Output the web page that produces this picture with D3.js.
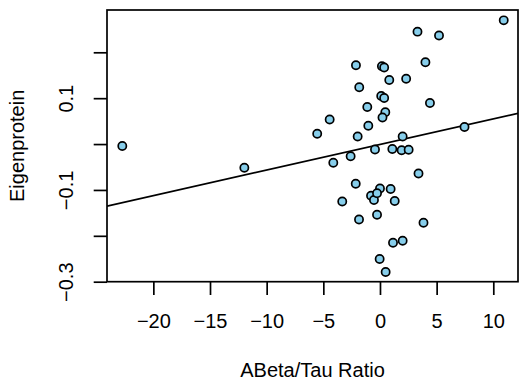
<!DOCTYPE html>
<html>
<head>
<meta charset="utf-8">
<script src="https://cdn.jsdelivr.net/npm/d3@7"></script>
<style>
  html, body { margin: 0; padding: 0; background: #fff; }
  svg { display: block; }
  text { font-family: "Liberation Sans", Arial, Helvetica, sans-serif; fill: #000; }
</style>
</head>
<body>
<svg id="chart" width="523" height="381"></svg>
<script>
// ABeta/Tau ratio (x) and Eigenprotein (y)
const ratio = [10.92, 3.31, 5.21, -2.12, 0.17, 0.37, 4.01, 0.82, 2.31, -1.83,
  0.11, 0.37, 4.41, -1.12, 0.47, 0.22, -4.44, -1.03, 7.46, -5.54,
  -1.97, 2.0, -0.44, 1.09, 1.91, 2.53, -2.59, -4.12, 3.40, -2.14,
  0.0, 0.94, -0.79, -0.53, -0.26, -3.33, 1.30, -0.26, -1.85, 3.84,
  1.15, 2.0, -0.03, 0.50, -22.74, -11.97];
const eigen = [0.2696, 0.245, 0.2365, 0.1718, 0.1696, 0.1668, 0.1782, 0.1396, 0.1424, 0.1237,
  0.1047, 0.1004, 0.0895, 0.0808, 0.0692, 0.0579, 0.0535, 0.040, 0.0372, 0.0226,
  0.0165, 0.0165, -0.0119, -0.0108, -0.0134, -0.0123, -0.0267, -0.0408, -0.0642, -0.0866,
  -0.0969, -0.098, -0.1126, -0.1219, -0.107, -0.1252, -0.1241, -0.154, -0.1644, -0.1714,
  -0.215, -0.2107, -0.2505, -0.2789, -0.0042, -0.0515];
// fitted regression line: intercept, slope
const fit = [-0.001, 0.00557];
const xTicks = [-20, -15, -10, -5, 0, 5, 10];
const yTicks = [-0.3, -0.2, -0.1, 0, 0.1, 0.2];
const yTickLabels = ["\u22120.3", "", "\u22120.1", "", "0.1", ""];
const xLabel = "ABeta/Tau Ratio";
const yLabel = "Eigenprotein";

const L = 107, R = 518, T = 10, B = 281.7;
const xDomain = [-24.09, 12.18];
const yDomain = [-0.3, 0.2922];

const svg = d3.select("#chart");
const x = d3.scaleLinear().domain(xDomain).range([L, R]);
const y = d3.scaleLinear().domain(yDomain).range([B, T]);

svg.append("defs").append("clipPath").attr("id", "clip")
  .append("rect").attr("x", L).attr("y", T).attr("width", R - L).attr("height", B - T);

// regression line
svg.append("line")
  .attr("clip-path", "url(#clip)")
  .attr("x1", x(xDomain[0])).attr("y1", y(fit[0] + fit[1] * xDomain[0]))
  .attr("x2", x(xDomain[1])).attr("y2", y(fit[0] + fit[1] * xDomain[1]))
  .attr("stroke", "#000").attr("stroke-width", 1.7);

// points
svg.append("g").selectAll("circle")
  .data(ratio.map((v, i) => [v, eigen[i]]))
  .join("circle")
  .attr("cx", d => x(d[0])).attr("cy", d => y(d[1]))
  .attr("r", 4.1)
  .attr("fill", "#87CEEB").attr("stroke", "#000").attr("stroke-width", 1.7);

// x axis
const xAxis = d3.axisBottom(x).tickValues(xTicks).tickSize(13.3).tickPadding(20)
  .tickFormat(d => d < 0 ? "\u2212" + Math.abs(d) : String(d));
const gx = svg.append("g").attr("transform", `translate(0,${B})`).call(xAxis);
gx.select(".domain").remove();
gx.selectAll(".tick line").attr("stroke", "#000").attr("stroke-width", 1.7);
gx.selectAll(".tick text").attr("font-size", 20).attr("font-family", "Liberation Sans, Arial, sans-serif")
  .attr("dy", null).attr("y", 46.5).attr("fill", "#000");

// y axis
const yAxis = d3.axisLeft(y).tickValues(yTicks).tickSize(13.3)
  .tickFormat((d, i) => yTickLabels[i]);
const gy = svg.append("g").attr("transform", `translate(${L},0)`).call(yAxis);
gy.select(".domain").remove();
gy.selectAll(".tick line").attr("stroke", "#000").attr("stroke-width", 1.7);
gy.selectAll(".tick text")
  .attr("font-size", 20).attr("font-family", "Liberation Sans, Arial, sans-serif")
  .attr("x", null).attr("dy", null).attr("fill", "#000")
  .attr("text-anchor", "middle")
  .attr("transform", "translate(-34,0) rotate(-90)");

// box
svg.append("rect").attr("x", L).attr("y", T).attr("width", R - L).attr("height", B - T)
  .attr("fill", "none").attr("stroke", "#000").attr("stroke-width", 1.7);

// axis titles
svg.append("text").attr("x", (L + R) / 2).attr("y", 377)
  .attr("text-anchor", "middle").attr("font-size", 20).text(xLabel);
svg.append("text")
  .attr("transform", `translate(24,${(T + B) / 2}) rotate(-90)`)
  .attr("text-anchor", "middle").attr("font-size", 20).text(yLabel);
</script>
</body>
</html>
